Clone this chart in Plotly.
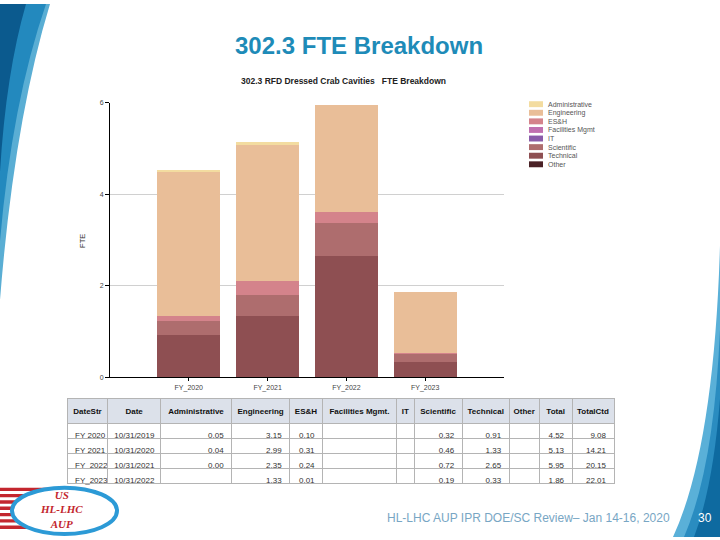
import plotly.graph_objects as go

W, H = 720, 540

# ---------------- data ----------------
years = ["FY_2020", "FY_2021", "FY_2022", "FY_2023"]
date_str = ["FY 2020", "FY 2021", "FY_2022", "FY_2023"]
dates = ["10/31/2019", "10/31/2020", "10/31/2021", "10/31/2022"]
administrative = [0.05, 0.04, 0.00, None]
engineering = [3.15, 2.99, 2.35, 1.33]
esh = [0.10, 0.31, 0.24, 0.01]
facilities = [None, None, None, None]
it = [None, None, None, None]
scientific = [0.32, 0.46, 0.72, 0.19]
technical = [0.91, 1.33, 2.65, 0.33]
other = [None, None, None, None]
total = [4.52, 5.13, 5.95, 1.86]
total_ctd = [9.08, 14.21, 20.15, 22.01]

series_names = ["Administrative", "Engineering", "ES&H", "Facilities Mgmt", "IT",
                "Scientific", "Technical", "Other"]
series_values = [administrative, engineering, esh, facilities, it, scientific, technical, other]
series_colors = ["#F3DCA0", "#E9BE98", "#D4838B", "#C070B0", "#8A5CAA",
                 "#AE6D6E", "#8E4F52", "#4A2126"]
table_headers = ["DateStr", "Date", "Administrative", "Engineering", "ES&H",
                 "Facilities Mgmt.", "IT", "Scientific", "Technical", "Other", "Total", "TotalCtd"]


def px(x):
    return round(x / W, 5)


def py(y):
    return round(1 - y / H, 5)


def nb(s):
    return s.replace(" ", "\u00a0")


fig = go.Figure()

# stacked bars: bottom to top
for name, vals, col in reversed(list(zip(series_names, series_values, series_colors))):
    fig.add_trace(go.Bar(
        x=years, y=vals, name=name, marker=dict(color=col, line=dict(width=0)),
        width=0.8, showlegend=False, xaxis="x", yaxis="y"))


def fmt(v):
    return "" if v is None else f"{v:.2f}"


cols = [[nb(s) for s in date_str], dates] + [[fmt(v) for v in s] for s in
                                             [administrative, engineering, esh, facilities, it,
                                              scientific, technical, other, total, total_ctd]]

fig.add_trace(go.Table(
    domain=dict(x=[px(67), px(615)], y=[py(489), py(400)]),
    columnwidth=[41, 53, 71, 58, 33, 74, 18, 48, 47, 30, 33, 42],
    header=dict(values=[f"<b>{nb(h)}</b>" for h in table_headers],
                fill_color="#DCE1EA", line_color="#B4B4B4",
                font=dict(family="Liberation Sans, Arial", size=8, color="#111"),
                align="center", height=17),
    cells=dict(values=cols, fill_color="white", line_color="#B4B4B4",
               font=dict(family="Liberation Sans, Arial", size=8, color="#333"),
               align=["left", "center"] + ["right"] * 10, height=15),
))

fig.update_layout(
    width=W, height=H, autosize=False, margin=dict(l=0, r=0, t=0, b=0),
    paper_bgcolor="white", plot_bgcolor="white",
    barmode="stack", bargap=0.2,
    font=dict(family="Liberation Sans, Arial", size=7, color="#333"),
    xaxis=dict(domain=[px(110), px(504)], anchor="y", range=[-1, 4],
               showline=True, linecolor="black", linewidth=1,
               ticks="outside", ticklen=3, tickcolor="black",
               tickfont=dict(size=7, color="#444"), showgrid=False, fixedrange=True),
    yaxis=dict(domain=[py(378), py(100)], anchor="x", range=[0, 6],
               dtick=2, showline=True, linecolor="black", linewidth=1,
               ticks="outside", ticklen=4, tickcolor="black",
               tickfont=dict(size=7, color="#444"),
               showgrid=True, gridcolor="#D0D0D0", gridwidth=1, zeroline=False),
)

shapes = []
ann = []


def pth(cmds):
    """cmds: list of (letter, [(x,y),...]) in pixel coords -> paper path string"""
    out = []
    for letter, pts in cmds:
        out.append(letter + " " + " ".join(f"{px(x)},{py(y)}" for x, y in pts))
    return " ".join(out) + " Z"


# --- slide decoration: left swoosh ---
shapes.append(dict(type="path", xref="paper", yref="paper", layer="below",
                   path=pth([("M", [(0, 0)]), ("L", [(50, 0)]), ("Q", [(14, 120), (0, 300)])]),
                   fillcolor="#5AAED4", line=dict(width=0)))
shapes.append(dict(type="path", xref="paper", yref="paper", layer="below",
                   path=pth([("M", [(0, 0)]), ("L", [(46, 0)]), ("Q", [(12, 100), (0, 240)])]),
                   fillcolor="#2389BE", line=dict(width=0)))
shapes.append(dict(type="path", xref="paper", yref="paper", layer="below",
                   path=pth([("M", [(0, 0)]), ("L", [(26, 0)]), ("Q", [(6, 70), (0, 170)])]),
                   fillcolor="#0B5A8E", line=dict(width=0)))

# --- right bottom swoosh ---
shapes.append(dict(type="path", xref="paper", yref="paper", layer="below",
                   path=pth([("M", [(720, 245)]), ("Q", [(714, 450), (673, 540)]), ("L", [(720, 540)])]),
                   fillcolor="#5AB0D8", line=dict(width=0)))
shapes.append(dict(type="path", xref="paper", yref="paper", layer="below",
                   path=pth([("M", [(720, 330)]), ("Q", [(714, 470), (684, 540)]), ("L", [(720, 540)])]),
                   fillcolor="#2A8CC0", line=dict(width=0)))
shapes.append(dict(type="path", xref="paper", yref="paper", layer="below",
                   path=pth([("M", [(720, 400)]), ("Q", [(713, 490), (694, 540)]), ("L", [(720, 540)])]),
                   fillcolor="#0E6AA0", line=dict(width=0)))

# --- logo ---
for i in range(7):
    y0 = 490 + i * 6.4
    shapes.append(dict(type="rect", xref="paper", yref="paper", layer="below",
                       x0=0, x1=px(60), y0=py(y0 + 3.4), y1=py(y0),
                       fillcolor="#C3262E", line=dict(width=0)))
shapes.append(dict(type="circle", xref="paper", yref="paper",
                   x0=px(12), x1=px(117), y0=py(537), y1=py(490),
                   fillcolor="white", line=dict(color="#2C9AD6", width=4)))
ann.append(dict(text="<i><b>US<br>HL-LHC<br>AUP</b></i>", x=px(62), y=py(512),
                xref="paper", yref="paper", showarrow=False, xanchor="center", yanchor="middle",
                font=dict(family="Liberation Serif, Times New Roman", size=11, color="#C3262E")))

# --- titles & text ---
ann.append(dict(text="<b>302.3 FTE Breakdown</b>", x=px(359), y=py(42), xref="paper", yref="paper",
                showarrow=False, xanchor="center", yanchor="middle",
                font=dict(family="Liberation Sans, Arial", size=24, color="#1E8BB8")))
ann.append(dict(text="<b>302.3 RFD Dressed Crab Cavities \u00a0 FTE Breakdown</b>",
                x=px(343), y=py(78), xref="paper", yref="paper",
                showarrow=False, xanchor="center", yanchor="middle",
                font=dict(family="Liberation Sans, Arial", size=8.5, color="#222")))
ann.append(dict(text="FTE", x=px(83), y=py(240), xref="paper", yref="paper", textangle=-90,
                showarrow=False, xanchor="center", yanchor="middle",
                font=dict(family="Liberation Sans, Arial", size=7.5, color="#333")))
ann.append(dict(text="HL-LHC AUP IPR DOE/SC Review– Jan 14-16, 2020", x=px(672), y=py(521),
                xref="paper", yref="paper", showarrow=False, xanchor="right", yanchor="middle",
                font=dict(family="Liberation Sans, Arial", size=12, color="#78A6C4")))
ann.append(dict(text="30", x=px(705), y=py(521), xref="paper", yref="paper", showarrow=False,
                xanchor="center", yanchor="middle",
                font=dict(family="Liberation Sans, Arial", size=12, color="white")))

# --- compact legend ---
for i, (name, col) in enumerate(zip(series_names, series_colors)):
    yc = 101.5 + i * 8.7
    shapes.append(dict(type="rect", xref="paper", yref="paper",
                       x0=px(529), x1=px(543), y0=py(yc + 3), y1=py(yc - 3),
                       fillcolor=col, line=dict(width=0)))
    ann.append(dict(text=name, x=px(546), y=py(yc), xref="paper", yref="paper",
                    showarrow=False, xanchor="left", yanchor="middle",
                    font=dict(family="Liberation Sans, Arial", size=7, color="#555")))

fig.update_layout(shapes=shapes, annotations=ann)
fig.write_html("out.html", config={"displayModeBar": False, "responsive": False},
               post_script=("var g=document.getElementById('{plot_id}');"
                            "g.style.position='fixed';g.style.left='0px';g.style.top='0px';"
                            "document.documentElement.style.overflow='hidden';"
                            "document.documentElement.style.margin='0';"
                            "document.body.style.margin='0';"
                            "document.body.style.height='540px';"
                            "document.body.style.overflow='hidden';"))
